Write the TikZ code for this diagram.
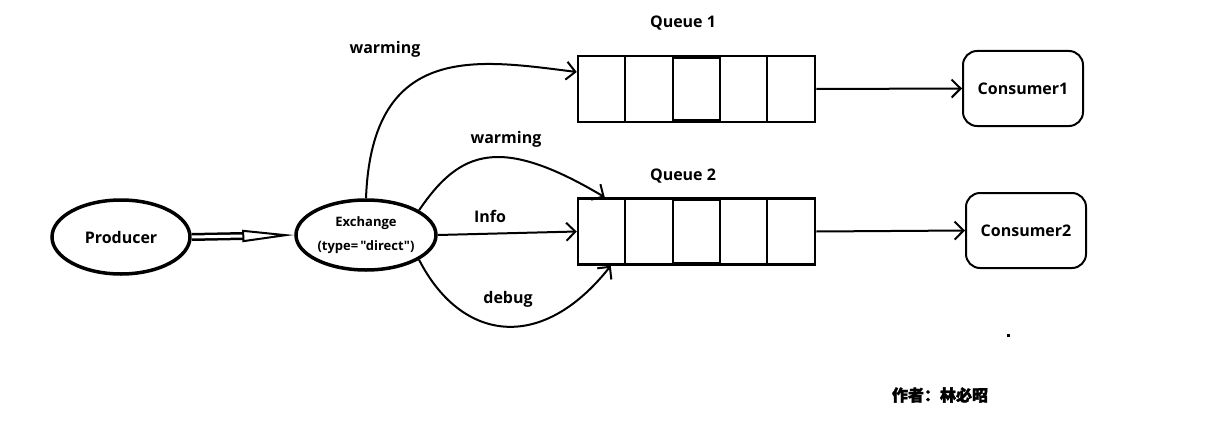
\documentclass[tikz,border=0pt]{standalone}
\usepackage{fontspec}
\setmainfont{Open Sans}
\newfontfamily\exfont{Open Sans}
\newfontfamily\cjk{Noto Sans CJK SC}[FakeBold=2]
\usetikzlibrary{shapes.geometric,arrows.meta}

\begin{document}
\begin{tikzpicture}[x=1pt,y=-1pt]
                  \tikzstyle{every node}+=[inner sep=0pt,font=\bfseries\fontsize{16}{18}\selectfont]
                  \tikzstyle{blob}=[draw,ellipse,line width=3.5pt]
                  \tikzstyle{queuebox}=[draw,rectangle,line width=2.5pt,minimum width=237pt,minimum height=66pt]
                  \tikzstyle{consumer}=[draw,rectangle,rounded corners=14pt,line width=2pt,minimum width=120pt,minimum height=75pt]
                  \tikzstyle{link}=[line width=2pt,-{Straight Barb[length=9pt,width=18pt,line width=2pt]}]
                  \useasboundingbox (0,0) rectangle (1230,428);
                  \node [blob,minimum width=138pt,minimum height=74pt] (prod) at (121,237) {Producer};
                  \node [blob,minimum width=140pt,minimum height=70pt,align=center,font=\exfont\bfseries\fontsize{13}{24}\selectfont] (ex) at (366,235) {Exchange\\(type=\,"direct")};
                  \node [queuebox] (q1) at (696.5,89) {};
                  \draw [line width=2.5pt] (625,56) -- (625,122);
                  \draw [line width=2.5pt] (673,58) rectangle (720,120);
                  \draw [line width=2.5pt] (767,56) -- (767,122);
                  \node [queuebox] (q2) at (696.5,231.5) {};
                  \draw [line width=2.5pt] (625,198) -- (625,265);
                  \draw [line width=2.5pt] (673,200) rectangle (720,263);
                  \draw [line width=2.5pt] (767,198) -- (767,265);
                  \node (q1label) at (683,23) {Queue 1};
                  \node (q2label) at (683,176) {Queue 2};
                  \node [consumer] (c1) at (1023,88.5) {Consumer1};
                  \node [consumer] (c2) at (1026,230.5) {Consumer2};
                  \draw [line width=2.5pt,double,double distance=3pt,-{Triangle[open,length=52pt,width=12pt,line width=2pt]}] (prod.east) -- (ex.west);
                  \draw [link] (ex.north) .. controls (372,40) and (480,60) .. ([yshift=17pt]q1.west);
                  \node (warm1) at (385,49) {warming};
                  \draw [link] (ex.25) .. controls (460,150) and (500,135) .. ([xshift=28pt]q2.north west);
                  \node (warm2) at (506,139) {warming};
                  \draw [link] (ex.east) -- (q2.west);
                  \node (info) at (490,216) {Info};
                  \draw [link] (ex.-25) .. controls (460,340) and (540,355) .. ([xshift=34pt]q2.south west);
                  \node (debug) at (508,299) {debug};
                  \draw [link] (q1.east) -- (c1.west);
                  \draw [link] (q2.east) -- (c2.west);
                  \fill (1006.5,333.5) rectangle (1009.5,336.5);
                  \node [font=\cjk\bfseries\fontsize{16}{18}\selectfont] (author) at (940,395) {作者：林必昭};
              \end{tikzpicture}
\end{document}
